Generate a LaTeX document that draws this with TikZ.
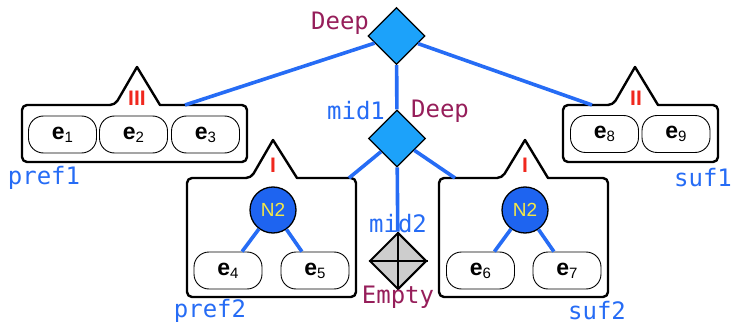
\documentclass[tikz,border=0pt]{standalone}
\usepackage{fontspec}
\setmainfont{Liberation Sans}
\newfontfamily\labelmono{DejaVu Sans Mono}
\usetikzlibrary{shapes.geometric}

\definecolor{linkblue}{RGB}{38,108,245}
\definecolor{diamondblue}{RGB}{28,162,250}
\definecolor{nodeblue}{RGB}{30,100,240}
\definecolor{tagred}{RGB}{240,40,30}
\definecolor{kindpurple}{RGB}{150,30,90}
\definecolor{nodeyellow}{RGB}{245,232,70}
\definecolor{emptygray}{RGB}{205,205,205}

% element label: bold "e" with a lowered plain index
\newcommand\elab[1]{\textbf{e}\raisebox{-3pt}{\fontsize{15}{15}\selectfont #1}}

\tikzset{
  tree/.style={draw=black, line width=2.4pt, fill=white, line join=round},
  pill/.style={draw=black, line width=0.9pt, rounded corners=15pt, fill=white,
    minimum width=68pt, minimum height=37pt, inner sep=0pt,
    font=\fontsize{23}{23}\selectfont},
  link/.style={draw=linkblue, line width=3.6pt},
  choice/.style={diamond, draw=black, line width=1.3pt, fill=diamondblue,
    minimum width=57pt, minimum height=57pt, inner sep=0pt, aspect=1},
  emptychoice/.style={choice, fill=emptygray, line width=2pt},
  inner/.style={circle, draw=black, line width=1.3pt, fill=nodeblue,
    minimum size=46pt, inner sep=0pt, text=nodeyellow,
    font=\fontsize{19}{19}\selectfont},
  tag/.style={text=tagred, inner sep=0pt, font=\bfseries\fontsize{21}{21}\selectfont},
  namelab/.style={text=linkblue, inner sep=0pt, font=\labelmono\fontsize{24}{24}\selectfont},
  kindlab/.style={text=kindpurple, inner sep=0pt, font=\labelmono\fontsize{24}{24}\selectfont},
}

\begin{document}
\begin{tikzpicture}[x=1pt, y=-1pt]
\useasboundingbox (0,0) rectangle (731,326);

% digit boxes with their measure tabs
\draw[tree] (115,105) -- (137,67) -- (160,105) [rounded corners=5pt] -- (247,105) -- (247,162) -- (22,162) -- (22,105) -- cycle;
\draw[tree] (613,105) -- (635,67) -- (658,105) [rounded corners=5pt] -- (718,105) -- (718,162) -- (563,162) -- (563,105) -- cycle;
\draw[tree] (251,178) -- (273,140) -- (297,178) [rounded corners=5pt] -- (356,178) -- (356,297) -- (187,297) -- (187,178) -- cycle;
\draw[tree] (502,178) -- (525,140) -- (548,178) [rounded corners=5pt] -- (608,178) -- (608,297) -- (439,297) -- (439,178) -- cycle;

\coordinate (pref1top) at (185,105);
\coordinate (suf1top) at (592,105);
\coordinate (pref2top) at (349,178);
\coordinate (suf2top) at (455,178);

% measure tags
\node[tag] (m3) at (137,98) {III};
\node[tag] (m2) at (636,98) {II};
\node[tag] (m1a) at (273,165) {I};
\node[tag] (m1b) at (525,165) {I};

% elements
\node[pill] (e1) at (62.5,134.5) {\elab{1}};
\node[pill] (e2) at (133.5,134.5) {\elab{2}};
\node[pill] (e3) at (205.5,134.5) {\elab{3}};
\node[pill] (e8) at (604.5,134) {\elab{8}};
\node[pill] (e9) at (676,134) {\elab{9}};
\node[pill] (e4) at (228,270.5) {\elab{4}};
\node[pill] (e5) at (315,270.5) {\elab{5}};
\node[pill] (e6) at (480.5,270.5) {\elab{6}};
\node[pill] (e7) at (567,270.5) {\elab{7}};

% inner 2-nodes
\node[inner] (n2a) at (273,210) {N2};
\node[inner] (n2b) at (525,210) {N2};
\draw[link] (n2a) -- (e4);
\draw[link] (n2a) -- (e5);
\draw[link] (n2b) -- (e6);
\draw[link] (n2b) -- (e7);

% spine of deep nodes
\node[choice] (deep) at (396.5,36) {};
\node[choice] (mid1) at (397,138.5) {};
\node[emptychoice] (empty) at (398,261) {};
\draw[line width=2pt] (empty.north) -- (empty.south) (empty.west) -- (empty.east);

\draw[link] (deep) -- (pref1top);
\draw[link] (deep) -- (suf1top);
\draw[link] (deep) -- (mid1);
\draw[link] (mid1) -- (pref2top);
\draw[link] (mid1) -- (suf2top);
\draw[link] (mid1) -- (empty);

% labels
\node[kindlab] (deeplab) at (340,23) {Deep};
\node[namelab] (mid1lab) at (356,111) {mid1};
\node[kindlab] (mid1kind) at (440,111) {Deep};
\node[namelab] (mid2lab) at (398,224) {mid2};
\node[kindlab] (emptylab) at (398,297) {Empty};
\node[namelab] (pref1lab) at (44,178) {pref1};
\node[namelab] (suf1lab) at (703,178) {suf1};
\node[namelab] (pref2lab) at (210,311) {pref2};
\node[namelab] (suf2lab) at (597,311) {suf2};
\end{tikzpicture}
\end{document}
